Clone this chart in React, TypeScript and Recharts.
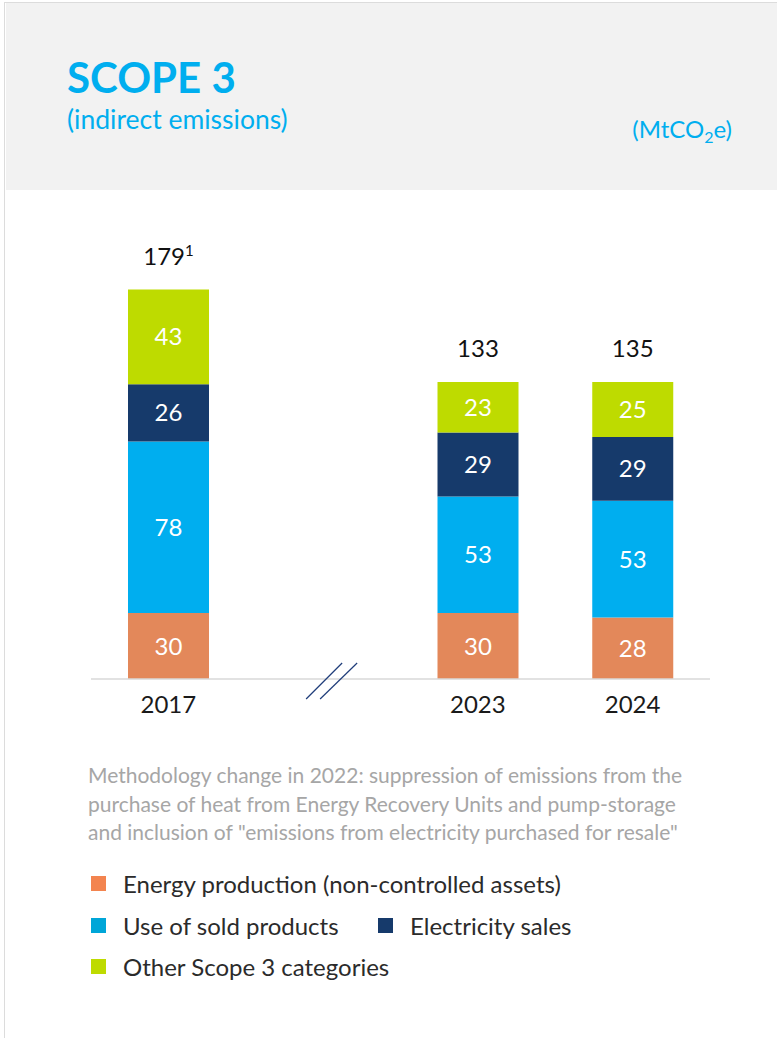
import React from 'react';
import { BarChart, Bar, XAxis, YAxis, LabelList } from 'recharts';

const years = ['2017', '', '2023', '2024'];
const energyProduction = [30, null, 30, 28];
const soldProducts = [78, null, 53, 53];
const electricitySales = [26, null, 29, 29];
const otherScope3 = [43, null, 23, 25];
const totals = ['179', '', '133', '135'];
const totalNotes = ['1', '', '', ''];

const series = [
  { key: 'energy', name: 'Energy production (non-controlled assets)', values: energyProduction, color: '#e3885a', legend: '#f3844f' },
  { key: 'sold', name: 'Use of sold products', values: soldProducts, color: '#00aeef', legend: '#00a6d8' },
  { key: 'elec', name: 'Electricity sales', values: electricitySales, color: '#163a6b', legend: '#163a6b' },
  { key: 'other', name: 'Other Scope 3 categories', values: otherScope3, color: '#bedb00', legend: '#bedb00' },
];

const data = years.map((year, i) => {
  const row: Record<string, any> = { year };
  series.forEach(s => { row[s.key] = s.values[i]; });
  return row;
});

const FONT = 'Lato, "Open Sans", sans-serif';

const YearTick = (props: any) => {
  const { x, y, payload } = props;
  if (!payload.value) {
    // axis break marker for the gap between 2017 and 2023
    return (
      <g stroke="#1f3d7a" strokeWidth={1.2}>
        <line x1={x - 17} y1={y + 20} x2={x + 19} y2={y - 16} />
        <line x1={x - 3} y1={y + 20} x2={x + 34} y2={y - 16} />
      </g>
    );
  }
  return (
    <text x={x} y={y + 34} textAnchor="middle" fontSize={24} fill="#1a1a1a" fontFamily={FONT}>
      {payload.value}
    </text>
  );
};

const TotalLabel = (props: any) => {
  const { x, y, width, value } = props;
  const i = years.indexOf(value);
  if (i < 0 || !totals[i]) return null;
  return (
    <text x={x + width / 2} y={y - 25} textAnchor="middle" fontSize={24} fill="#111" fontFamily={FONT}>
      {totals[i]}
      {totalNotes[i] ? <tspan dy={-9} fontSize={15}>{totalNotes[i]}</tspan> : null}
    </text>
  );
};

export default function App() {
  return (
    <div style={{ position: 'absolute', top: 0, left: 0, width: 777, height: 1038, background: '#fff', fontFamily: FONT, overflow: 'hidden' }}>
      <div style={{ position: 'absolute', top: 2, left: 4, right: 0, bottom: 0, borderLeft: '1.5px solid #dcdcdc', borderTop: '1.5px solid #dcdcdc' }} />
      <div style={{ position: 'absolute', top: 3, left: 6, right: 0, height: 187, background: '#f2f2f2' }} />

      <div style={{ position: 'absolute', left: 67, top: 52, fontSize: 42, fontWeight: 700, color: '#00aeef', lineHeight: '50px' }}>SCOPE 3</div>
      <div style={{ position: 'absolute', left: 67, top: 104, fontSize: 26.5, color: '#00aeef', lineHeight: '30px' }}>(indirect emissions)</div>
      <div style={{ position: 'absolute', right: 45, top: 115, fontSize: 24, color: '#00aeef', lineHeight: '28px' }}>
        (MtCO<sub style={{ fontSize: 16, verticalAlign: '-5px', lineHeight: 0 }}>2</sub>e)
      </div>

      <div style={{ position: 'absolute', left: 0, top: 190 }}>
        <BarChart width={777} height={540} data={data} margin={{ top: 49, right: 67, bottom: 0, left: 91 }} barSize={81}>
          <XAxis
            dataKey="year"
            height={51}
            interval={0}
            tickLine={false}
            tickSize={0}
            tickMargin={0}
            axisLine={{ stroke: '#d9d9d9', strokeWidth: 1.5 }}
            tick={<YearTick />}
          />
          <YAxis hide domain={[0, 200]} />
          {series.map((s, si) => (
            <Bar key={s.key} dataKey={s.key} stackId="a" fill={s.color} isAnimationActive={false}>
              <LabelList dataKey={s.key} position="center" fill="#fff" fontSize={24} fontFamily={FONT} />
              {si === series.length - 1 ? <LabelList dataKey="year" content={<TotalLabel />} /> : null}
            </Bar>
          ))}
        </BarChart>
      </div>

      <div style={{ position: 'absolute', left: 88, top: 761, width: 700, fontSize: 21, lineHeight: '28.5px', color: '#a6a6a6', whiteSpace: 'nowrap' }}>
        Methodology change in 2022: suppression of emissions from the<br />
        purchase of heat from Energy Recovery Units and pump-storage<br />
        and inclusion of "emissions from electricity purchased for resale"
      </div>

      <div style={{ position: 'absolute', left: 91, top: 863, fontSize: 24, color: '#2b2b2b', whiteSpace: 'nowrap' }}>
        {[[series[0]], [series[1], series[2]], [series[3]]].map((row, ri) => (
          <div key={ri} style={{ display: 'flex', height: 41.5, alignItems: 'center' }}>
            {row.map((s, i) => (
              <div key={s.key} style={{ display: 'flex', alignItems: 'center', minWidth: row.length > 1 && i === 0 ? 287 : undefined }}>
                <span style={{ width: 15, height: 15, background: s.legend, display: 'inline-block', marginRight: 17 }} />
                <span>{s.name}</span>
              </div>
            ))}
          </div>
        ))}
      </div>
    </div>
  );
}
